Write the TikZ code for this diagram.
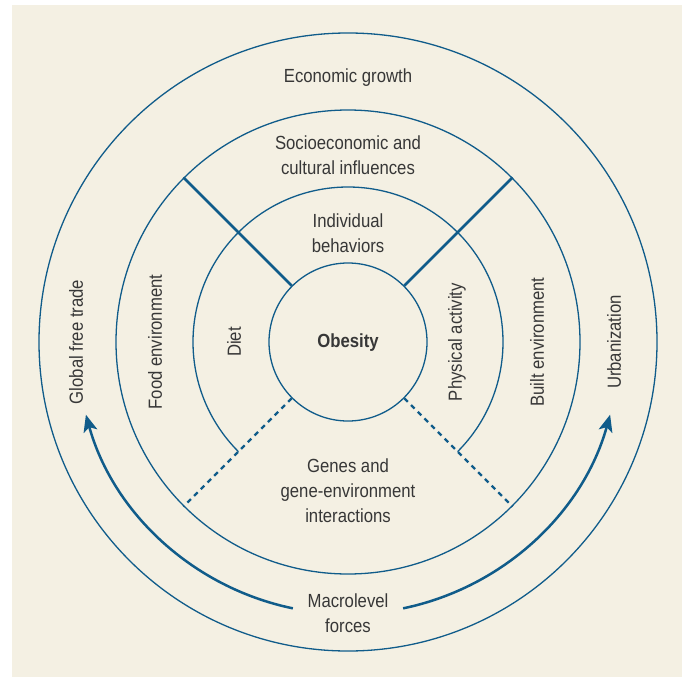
\documentclass[tikz,border=0pt]{standalone}
\usepackage{fontspec}
\setmainfont{Liberation Sans}[FakeStretch=0.88]
\usetikzlibrary{calc,arrows.meta}
\definecolor{bgc}{RGB}{244,240,227}
\definecolor{lnc}{RGB}{16,92,138}
\definecolor{txc}{RGB}{55,55,55}
\begin{document}
\begin{tikzpicture}[x=1pt,y=1pt,
  lbl/.style={text=txc,font=\fontsize{19}{22}\selectfont,inner sep=0pt,anchor=base},
  vlbl/.style={text=txc,font=\fontsize{19}{22}\selectfont,inner sep=0pt,rotate=90,anchor=center},
  ringnode/.style={circle,draw=lnc,line width=1.3pt,inner sep=0pt,minimum size=#1},
  ringarc/.style={draw=lnc,line width=1.3pt},
  sepline/.style={draw=lnc,line width=2.6pt},
  dsepline/.style={draw=lnc,line width=2.3pt,dash pattern=on 5pt off 4.5pt},
  force/.style={draw=lnc,line width=2.5pt,-{Stealth[length=17pt,width=14pt,inset=4pt]}}]
% canvas
\fill[white] (0,0) rectangle (682,-677);
\useasboundingbox (0,0) rectangle (682,-677);
\fill[bgc] (12,-5) rectangle (682,-677);
\coordinate (C) at (348,-342);
% rings
\node[ringnode=618pt] (outer) at (C) {};
\node[ringnode=464pt] (mid) at (C) {};
\node[ringnode=158pt] (ob) at (C) {};
\draw[ringarc] ($(C)+(-45:155)$) arc[start angle=-45, end angle=225, radius=155];
% separators
\draw[sepline] (ob.45) -- (mid.45);
\draw[sepline] (ob.135) -- (mid.135);
\draw[dsepline] (ob.225) -- (mid.225);
\draw[dsepline] (ob.315) -- (mid.315);
% labels
\node[lbl] (econ) at (348,-82) {Economic growth};
\node[lbl] (soc1) at (348,-149) {Socioeconomic and};
\node[lbl] (soc2) at (348,-174) {cultural influences};
\node[lbl] (ind1) at (348,-227) {Individual};
\node[lbl] (ind2) at (348,-252) {behaviors};
\node[lbl,font=\fontsize{19}{22}\selectfont\bfseries] (obt) at (348,-347) {Obesity};
\node[lbl] (gen1) at (348,-472) {Genes and};
\node[lbl] (gen2) at (348,-497) {gene-environment};
\node[lbl] (gen3) at (348,-522) {interactions};
\node[lbl] (mac1) at (348,-607) {Macrolevel};
\node[lbl] (mac2) at (348,-632) {forces};
\node[vlbl] (gft) at (76,-342) {Global free trade};
\node[vlbl] (food) at (155,-342) {Food environment};
\node[vlbl] (diet) at (234,-342) {Diet};
\node[vlbl] (phys) at (457,-342) {Physical activity};
\node[vlbl] (built) at (537,-342) {Built environment};
\node[vlbl] (urb) at (614,-342) {Urbanization};
% macrolevel force arrows
\coordinate (fl) at ($(C)+(258.3:272)$);
\coordinate (fr) at ($(C)+(281.7:272)$);
\draw[force] (fl) arc[start angle=258.3, end angle=195.5, radius=272];
\draw[force] (fr) arc[start angle=281.7, end angle=344.5, radius=272];
\end{tikzpicture}
\end{document}
